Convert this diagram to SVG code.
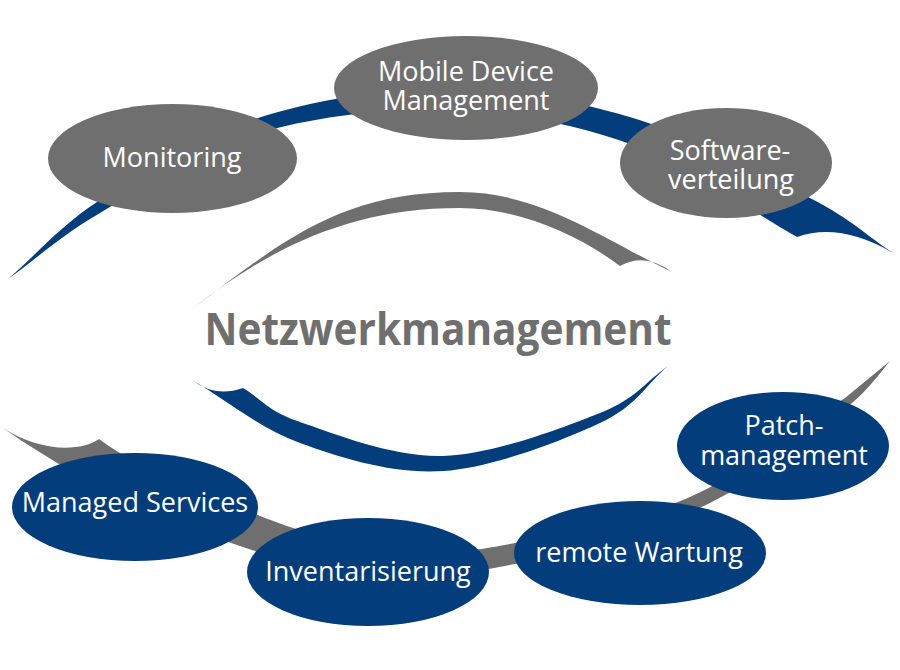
<svg xmlns="http://www.w3.org/2000/svg" width="900" height="670" viewBox="0 0 900 670">
<style>
.blue{fill:#033d7b}
.gray{fill:#6f6f6f}
.lbl{font-family:"Open Sans","Liberation Sans",sans-serif;font-size:27px;fill:#ffffff;text-anchor:middle}
.title{font-family:"Open Sans","Liberation Sans",sans-serif;font-size:44px;font-weight:bold;fill:#6f6f6f;text-anchor:middle}
</style>
<rect width="900" height="670" fill="#ffffff"/>
<g id="connectors">
<path class="blue" d="M8,279 C38.7,252.7 58.8,226.7 100,200 C141.2,173.3 197.2,137.7 255,119 C312.8,100.3 384,88.2 447,88 C510,87.8 572.5,99.7 633,118 C693.5,136.3 766.7,175.5 810,198 C853.3,220.5 865.3,234.7 893,253 Q840,222 797,237 C742.3,206.3 691.3,166.2 633,145 C574.7,123.8 510,111.8 447,110 C384,108.2 312.8,116.8 255,134 C197.2,151.2 141.2,188.8 100,213 C58.8,237.2 38.7,257 8,279 Z"/>
<path class="gray" d="M193,308 C283,241 340,192 460,192 C540,192 605,240 672,272 Q645,252 620,266 C580,236 520,208 460,208 C350,208 270,248 193,308 Z"/>
<path class="blue" d="M192,380 C228,401 258.2,427.8 300,443 C341.8,458.2 393,474.3 443,471 C493,467.7 562.5,440.5 600,423 C637.5,405.5 645.3,385 668,366 C645.3,381.7 637.5,398 600,413 C562.5,428 493,454.5 443,456 C393,457.5 333.3,433.3 300,422 C266.7,410.7 262,399.3 243,388 Q215,398 192,380 Z"/>
<path class="gray" d="M3,428 C84,485 173.2,523.5 246,548 C318.8,572.5 366,581 440,575 C514,569 621.3,540.7 690,512 C758.7,483.3 818.7,428.2 852,403 C867,391 880,373 890,361 C875,373 860,386 845,398 C811.7,420.7 745,472.8 690,497 C635,521.2 560,534.2 515,543 C470,551.8 457,552.5 420,550 C383,547.5 343,544.2 293,528 C243,511.8 152.3,467.8 120,453 C113,449 106,444 99,439 C80,452 40,452 3,428 Z"/>
</g>
<g id="monitoring">
<ellipse class="gray" cx="172.5" cy="158.5" rx="124.5" ry="54.5"/>
<text class="lbl" x="172" y="167">Monitoring</text>
</g>
<g id="mdm">
<ellipse class="gray" cx="466" cy="88" rx="132" ry="52"/>
<text class="lbl" x="466" y="81">Mobile Device</text>
<text class="lbl" x="466" y="110">Management</text>
</g>
<g id="softwareverteilung">
<ellipse class="gray" cx="726" cy="163" rx="106" ry="55"/>
<text class="lbl" x="730" y="160">Software-</text>
<text class="lbl" x="731" y="189">verteilung</text>
</g>
<g id="patchmanagement">
<ellipse class="blue" cx="783" cy="446" rx="106" ry="54"/>
<text class="lbl" x="784" y="435">Patch-</text>
<text class="lbl" x="784" y="465">management</text>
</g>
<g id="remotewartung">
<ellipse class="blue" cx="640" cy="553" rx="126" ry="52"/>
<text class="lbl" x="639" y="562">remote Wartung</text>
</g>
<g id="inventarisierung">
<ellipse class="blue" cx="368" cy="572" rx="121" ry="54"/>
<text class="lbl" x="368" y="581">Inventarisierung</text>
</g>
<g id="managedservices">
<ellipse class="blue" cx="135" cy="507" rx="123" ry="54"/>
<text class="lbl" x="135" y="512">Managed Services</text>
</g>
<g id="netzwerkmanagement">
<text class="title" x="438" y="345" textLength="467" lengthAdjust="spacingAndGlyphs">Netzwerkmanagement</text>
</g>
</svg>
